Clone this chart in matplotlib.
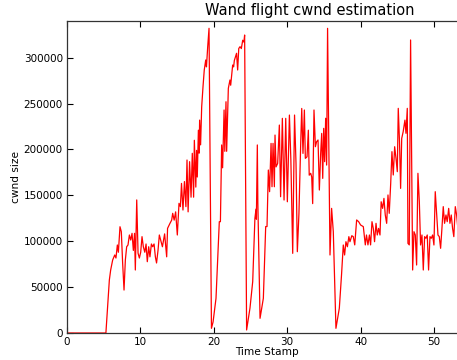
import matplotlib
matplotlib.use("Agg")
import matplotlib.pyplot as plt
from matplotlib.ticker import FuncFormatter

time_stamp = [0.0, 5.2, 5.3, 5.77, 5.95, 6.22, 6.5, 6.67, 6.86, 7.0, 7.22, 7.4, 7.58, 7.77, 7.95,
              8.13, 8.31, 8.5, 8.68, 8.86, 9.04, 9.2, 9.31, 9.5, 9.68, 9.86, 10.04, 10.22, 10.4,
              10.6, 10.77, 10.94, 11.13, 11.3, 11.5, 11.67, 11.86, 12.04, 12.2, 12.4, 12.58, 13.0,
              13.3, 13.58, 13.7, 14.03, 14.26, 14.4, 14.6, 14.8, 15.03, 15.26, 15.45, 15.6, 15.8,
              16.0, 16.2, 16.35, 16.5, 16.7, 16.9, 17.07, 17.25, 17.35, 17.55, 17.65, 17.75, 17.9,
              18.0, 18.07, 18.2, 18.35, 18.53, 18.7, 18.9, 19.0, 19.17, 19.35, 19.68, 19.9, 20.3,
              20.75, 20.9, 21.07, 21.2, 21.4, 21.5, 21.66, 21.75, 21.98, 22.2, 22.3, 22.57, 22.7,
              22.8, 23.1, 23.25, 23.4, 23.57, 23.75, 23.94, 24.1, 24.2, 24.47, 24.93, 25.3, 25.6,
              25.75, 25.8, 25.93, 26.0, 26.3, 26.75, 27.07, 27.25, 27.43, 27.6, 27.8, 27.93, 28.07,
              28.25, 28.34, 28.48, 28.7, 28.93, 29.1, 29.34, 29.57, 29.8, 30.02, 30.3, 30.5, 30.75,
              31.0, 31.2, 31.38, 31.6, 31.84, 31.98, 32.15, 32.34, 32.47, 32.7, 32.88, 33.0, 33.2,
              33.34, 33.47, 33.65, 33.84, 34.0, 34.2, 34.38, 34.56, 34.7, 34.84, 34.97, 35.1, 35.24,
              35.37, 35.5, 35.83, 36.05, 36.28, 36.64, 37.1, 37.4, 37.64, 37.82, 38.0, 38.2, 38.4,
              38.55, 38.8, 39.0, 39.2, 39.46, 39.73, 40.0, 40.37, 40.64, 40.8, 41.0, 41.2, 41.36,
              41.55, 41.73, 41.9, 42.1, 42.27, 42.45, 42.64, 42.8, 43.0, 43.18, 43.36, 43.55, 43.73,
              43.9, 44.1, 44.27, 44.45, 44.64, 44.82, 45.0, 45.13, 45.3, 45.45, 45.6, 45.8, 46.04,
              46.18, 46.36, 46.45, 46.63, 46.81, 47.09, 47.27, 47.45, 47.63, 47.81, 48.0, 48.17,
              48.36, 48.54, 48.72, 48.9, 49.08, 49.26, 49.45, 49.63, 49.81, 49.99, 50.17, 50.35,
              50.54, 50.72, 50.9, 51.08, 51.26, 51.44, 51.63, 51.8, 52.0, 52.17, 52.35, 52.53, 52.7,
              52.9, 53.08, 53.3]

cwnd = [0, 0, 0, 57750, 68650, 79500, 85000, 81700, 95900, 88000, 115800, 110400, 76300, 46800, 79500,
        94000, 95900, 106800, 101300, 108600, 90000, 108600, 68650, 145000, 87000, 81700, 88000, 105000, 94000,
        88000, 97000, 77700, 94000, 83000, 97000, 94000, 97000, 83000, 76300, 90000, 106800, 94000,
        108000, 83000, 114000, 119500, 123000, 130400, 123000, 132000, 106800, 141300, 137700, 163000, 134000,
        165000, 137700, 188500, 132000, 186700, 148000, 195800, 148000, 210000, 159000, 199000, 170000, 221000,
        196000, 232000, 205000, 246600, 268400, 286600, 297500, 290000, 312000, 332000, 5100, 12000, 37800,
        121300, 121300, 204900, 180000, 243000, 198000, 252000, 198000, 266600, 275700, 270000, 292000, 290000,
        297000, 304800, 286600, 310000, 312000, 310000, 319000, 317000, 324700, 3300, 27200, 56000, 125000,
        135000, 124000, 204900, 142000, 16000, 37800, 116000, 116000, 177600, 154000, 206600, 159400, 206600,
        159400, 215700, 181000, 184800, 226600, 148500, 233900, 144900, 233900, 143000, 237500, 188400, 86800,
        237500, 184800, 88600, 130400, 206600, 244700, 195700, 243000, 190300, 192000, 221000, 172000, 174000,
        170000, 141000, 243000, 203000, 208400, 210300, 155800, 195700, 217500, 168500, 223000, 186700, 234000,
        183000, 332000, 85000, 135800, 110400, 5100, 27000, 63200, 95900, 85000, 99500, 94000, 105000,
        99500, 106000, 105000, 96000, 123200, 121300, 117700, 115900, 96000, 106800, 96000, 106800, 96000,
        121300, 114000, 99500, 119500, 106800, 114000, 106800, 143000, 135800, 146700, 128600, 119500, 150400,
        130400, 163000, 197600, 172200, 203000, 190300, 175800, 244800, 208500, 157600, 212000, 219400, 232000,
        217600, 244800, 97700, 96000, 319300, 68650, 110400, 106800, 74100, 174000, 143100, 95900,
        106800, 68650, 105000, 103200, 106800, 68650, 105000, 103200, 106800, 95900, 154000, 130400,
        106800, 105000, 92300, 114000, 137700, 119500, 128600, 121300, 135800, 119500, 128600, 114000, 105000,
        137700, 128600, 110000]

x_ticks = [0, 10, 20, 30, 40, 50]
y_ticks = [0, 50000, 100000, 150000, 200000, 250000, 300000]

fig = plt.figure(figsize=(4.57, 3.6), dpi=100)
ax = fig.add_axes([0.1466, 0.075, 0.9637, 0.8667])
ax.plot(time_stamp, cwnd, color="red", linewidth=0.9)
ax.set_xlim(0, 60)
ax.set_ylim(0, 340000)
ax.set_xticks(x_ticks)
ax.set_yticks(y_ticks)
ax.yaxis.set_major_formatter(FuncFormatter(lambda v, p: "%d" % v))
ax.tick_params(direction="in", top=True, right=True, labelsize=7.5, length=4, width=0.8, pad=3)
for s in ax.spines.values():
    s.set_linewidth(0.9)
    s.set_color("#333333")
ax.set_title("Wand flight cwnd estimation", fontsize=10.5, x=0.552, pad=4)
ax.set_xlabel("Time Stamp", fontsize=7.6, labelpad=1)
ax.xaxis.set_label_coords(0.454, -0.045)
ax.set_ylabel("cwnd size", fontsize=7.6, labelpad=2)
ax.yaxis.set_label_coords(-0.105, 0.5)
fig.savefig("out.png", dpi=100)
